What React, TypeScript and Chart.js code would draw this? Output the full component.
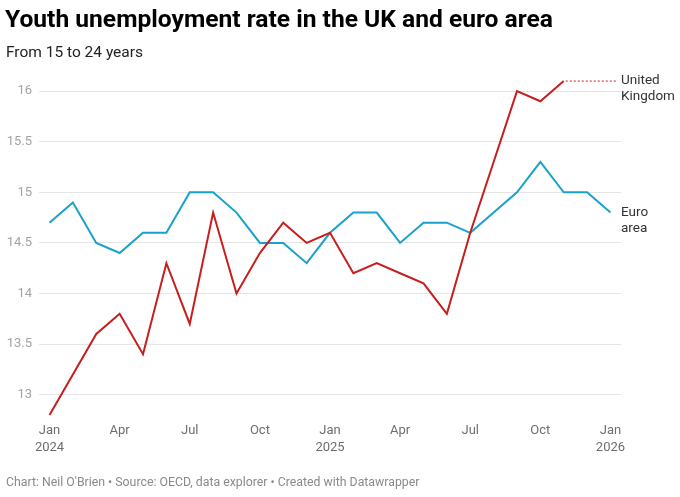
import React, { useEffect, useRef } from "react";
import { Chart, registerables } from "chart.js";

Chart.register(...registerables);

// Months Jan 2024 .. Jan 2026 (index 0..24)
const months = [
  "Jan 2024", "Feb 2024", "Mar 2024", "Apr 2024", "May 2024", "Jun 2024",
  "Jul 2024", "Aug 2024", "Sep 2024", "Oct 2024", "Nov 2024", "Dec 2024",
  "Jan 2025", "Feb 2025", "Mar 2025", "Apr 2025", "May 2025", "Jun 2025",
  "Jul 2025", "Aug 2025", "Sep 2025", "Oct 2025", "Nov 2025", "Dec 2025",
  "Jan 2026",
];

const ukValues: (number | null)[] = [
  12.8, 13.2, 13.6, 13.8, 13.4, 14.3, 13.7, 14.8, 14.0, 14.4, 14.7, 14.5,
  14.6, 14.2, 14.3, 14.2, 14.1, 13.8, 14.6, 15.3, 16.0, 15.9, 16.1, null, null,
];

const euroValues: (number | null)[] = [
  14.7, 14.9, 14.5, 14.4, 14.6, 14.6, 15.0, 15.0, 14.8, 14.5, 14.5, 14.3,
  14.6, 14.8, 14.8, 14.5, 14.7, 14.7, 14.6, 14.8, 15.0, 15.3, 15.0, 15.0, 14.8,
];

const tickMonthIdx = [0, 3, 6, 9, 12, 15, 18, 21, 24];
const tickLabels: string[][] = [
  ["Jan", "2024"], ["Apr"], ["Jul"], ["Oct"],
  ["Jan", "2025"], ["Apr"], ["Jul"], ["Oct"], ["Jan", "2026"],
];
const yTicks = [13, 13.5, 14, 14.5, 15, 15.5, 16];

const seriesNames = [["United", "Kingdom"], ["Euro", "area"]];

const UK_COLOR = "#c71e1d";
const EURO_COLOR = "#18a1cd";
const FONT = "Roboto, 'Noto Sans', sans-serif";

const toPoints = (vals: (number | null)[]) =>
  vals.map((v, i) => ({ x: i, y: v }));

const lastIndex = (vals: (number | null)[]) => {
  for (let i = vals.length - 1; i >= 0; i--) if (vals[i] != null) return i;
  return -1;
};

const labelPlugin = {
  id: "seriesLabels",
  afterDatasetsDraw(chart: any) {
    const { ctx, scales, chartArea } = chart;
    const xs = scales.x;
    const ys = scales.y;
    const labelX = chartArea.right;
    ctx.save();
    [ukValues, euroValues].forEach((vals, di) => {
      const li = lastIndex(vals);
      const px = xs.getPixelForValue(li);
      const py = ys.getPixelForValue(vals[li] as number);
      if (labelX - px > 20) {
        ctx.strokeStyle = di === 0 ? UK_COLOR : EURO_COLOR;
        ctx.lineWidth = 1;
        ctx.setLineDash([2, 2]);
        ctx.beginPath();
        ctx.moveTo(px + 2, py);
        ctx.lineTo(labelX - 4, py);
        ctx.stroke();
        ctx.setLineDash([]);
      }
      ctx.fillStyle = "#333333";
      ctx.font = `13.5px ${FONT}`;
      ctx.textAlign = "left";
      ctx.textBaseline = "middle";
      seriesNames[di].forEach((line, k) => {
        ctx.fillText(line, labelX, py + k * 16);
      });
    });
    ctx.restore();
  },
};

export default function App() {
  const canvasRef = useRef<HTMLCanvasElement | null>(null);

  useEffect(() => {
    if (!canvasRef.current) return;
    const chart = new Chart(canvasRef.current, {
      type: "line",
      data: {
        labels: months,
        datasets: [
          {
            label: "United Kingdom",
            data: toPoints(ukValues) as any,
            borderColor: UK_COLOR,
            borderWidth: 2,
            pointRadius: 0,
            tension: 0,
            clip: false as any,
            spanGaps: false,
          },
          {
            label: "Euro area",
            data: toPoints(euroValues) as any,
            borderColor: EURO_COLOR,
            borderWidth: 2,
            pointRadius: 0,
            tension: 0,
            clip: false as any,
          },
        ],
      },
      options: {
        animation: false,
        responsive: false,
        maintainAspectRatio: false,
        layout: { padding: { left: 0, right: 59, top: 79, bottom: 27 } },
        plugins: {
          legend: { display: false },
          tooltip: { enabled: false },
          title: { display: false },
        },
        scales: {
          x: {
            type: "linear",
            min: -0.45,
            max: 24.45,
            afterBuildTicks: (scale: any) => {
              scale.ticks = tickMonthIdx.map((v) => ({ value: v }));
            },
            afterFit: (scale: any) => {
              scale.height = 50;
            },
            grid: { display: false, drawTicks: false },
            border: { display: false },
            ticks: {
              autoSkip: false,
              maxRotation: 0,
              padding: 2,
              color: "#6e6e6e",
              font: { family: FONT, size: 13, lineHeight: 1.3 },
              callback: (v: any) => {
                const i = tickMonthIdx.indexOf(Number(v));
                return i >= 0 ? tickLabels[i] : "";
              },
            },
          },
          y: {
            min: 12.75,
            max: 16.12,
            afterBuildTicks: (scale: any) => {
              scale.ticks = yTicks.map((v) => ({ value: v }));
            },
            afterFit: (scale: any) => {
              scale.width = 39;
            },
            grid: { color: "#e5e5e5", lineWidth: 1, drawTicks: false },
            border: { display: false },
            ticks: {
              padding: 7,
              color: "#a3a3a3",
              font: { family: FONT, size: 13 },
              callback: (v: any) => String(v),
            },
          },
        },
      },
      plugins: [labelPlugin],
    });
    return () => chart.destroy();
  }, []);

  return (
    <div style={{ position: "fixed", left: 0, top: 0, width: 680, height: 497, background: "#fff", fontFamily: FONT, overflow: "hidden" }}>
      <canvas ref={canvasRef} width={680} height={497} style={{ position: "absolute", left: 0, top: 0, width: 680, height: 497 }} />
      <div style={{ position: "absolute", left: 5, top: 4, fontSize: 24.6, fontWeight: 700, color: "#000", whiteSpace: "nowrap" }}>
        Youth unemployment rate in the UK and euro area
      </div>
      <div style={{ position: "absolute", left: 6, top: 43, fontSize: 15.5, color: "#222", whiteSpace: "nowrap" }}>
        From 15 to 24 years
      </div>
      <div style={{ position: "absolute", left: 6, top: 475, fontSize: 12.3, color: "#8a8a8a", whiteSpace: "nowrap" }}>
        Chart: Neil O'Brien • Source: OECD, data explorer • Created with Datawrapper
      </div>
    </div>
  );
}
